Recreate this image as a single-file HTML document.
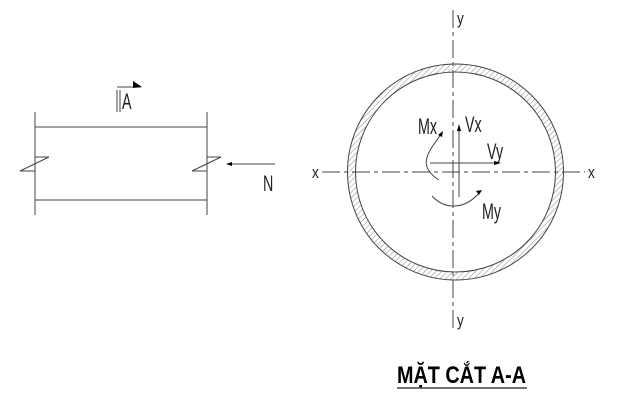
<!DOCTYPE html>
<html><head><style>html,body{margin:0;padding:0;background:#fff;}svg{display:block}</style></head>
<body>
<svg width="620" height="400" xmlns="http://www.w3.org/2000/svg" font-family="Liberation Sans, sans-serif">
<defs>
<pattern id="h" width="4" height="4" patternUnits="userSpaceOnUse" patternTransform="rotate(45)">
<line x1="0" y1="0" x2="0" y2="4" stroke="#888" stroke-width="1"/>
</pattern>
</defs>
<g stroke="#444" stroke-width="1" fill="none">
<line x1="35" y1="112" x2="35" y2="215"/>
<line x1="207" y1="112" x2="207" y2="215"/>
<line x1="35" y1="127" x2="207" y2="127"/>
<line x1="35" y1="200" x2="207" y2="200"/>
<polyline points="35,157 49,157 20,171 35,171"/>
<polyline points="207,157 221,157 192,171 207,171"/>
<line x1="275" y1="164" x2="228" y2="164"/>
<polyline points="117,112 117,90"/>
<polyline points="120,112 120,90"/>
<line x1="117" y1="87" x2="141" y2="87"/>
</g>
<polygon points="133,81 142,87 133,88" fill="#000"/>
<polygon points="226,164 232,162 232,166" fill="#000"/>
<g fill="#222" font-size="22">
<text transform="translate(122,109) scale(0.65,1)">A</text>
<text transform="translate(263,191) scale(0.65,1)">N</text>
<text transform="translate(418,134) scale(0.65,1)">Mx</text>
<text transform="translate(465,132) scale(0.65,1)">Vx</text>
<text transform="translate(487,159) scale(0.65,1)">Vy</text>
<text transform="translate(482,219) scale(0.65,1)">My</text>
<text transform="translate(312,178) scale(0.8,1)" font-size="17">x</text>
<text transform="translate(588,178) scale(0.8,1)" font-size="17">x</text>
<text transform="translate(457,24) scale(0.8,1)" font-size="17">y</text>
<text transform="translate(457,326) scale(0.8,1)" font-size="17">y</text>
</g>
<circle cx="455.5" cy="172" r="104" fill="none" stroke="url(#h)" stroke-width="8"/>
<circle cx="455.5" cy="172" r="108" fill="none" stroke="#444" stroke-width="1"/>
<circle cx="455.5" cy="172" r="100" fill="none" stroke="#444" stroke-width="1"/>
<g stroke="#444" stroke-width="1" fill="none">
<line x1="453" y1="10" x2="453" y2="330" stroke-dasharray="18,4,4,4"/>
<line x1="322" y1="172" x2="585" y2="172" stroke-dasharray="18,4,4,4"/>
<line x1="459" y1="197" x2="459" y2="128"/>
<line x1="430" y1="163" x2="498" y2="163"/>
<path d="M439,180 C415,165 430,150 442,133"/>
<path d="M432,196 C445,210 465,210 480,192"/>
</g>
<polygon points="459,124 457,131 461,131" fill="#000"/>
<polygon points="501,163 494,161 494,165" fill="#000"/>
<polygon points="443,131 438,135 442,137" fill="#000"/>
<polygon points="482,190 476,191 479,195" fill="#000"/>
<text x="397" y="383" font-size="24" font-weight="bold" fill="#000" textLength="129" lengthAdjust="spacingAndGlyphs">MẶT CẮT A-A</text>
<line x1="397" y1="388" x2="527" y2="388" stroke="#444" stroke-width="1.5"/>
</svg>
</body></html>
